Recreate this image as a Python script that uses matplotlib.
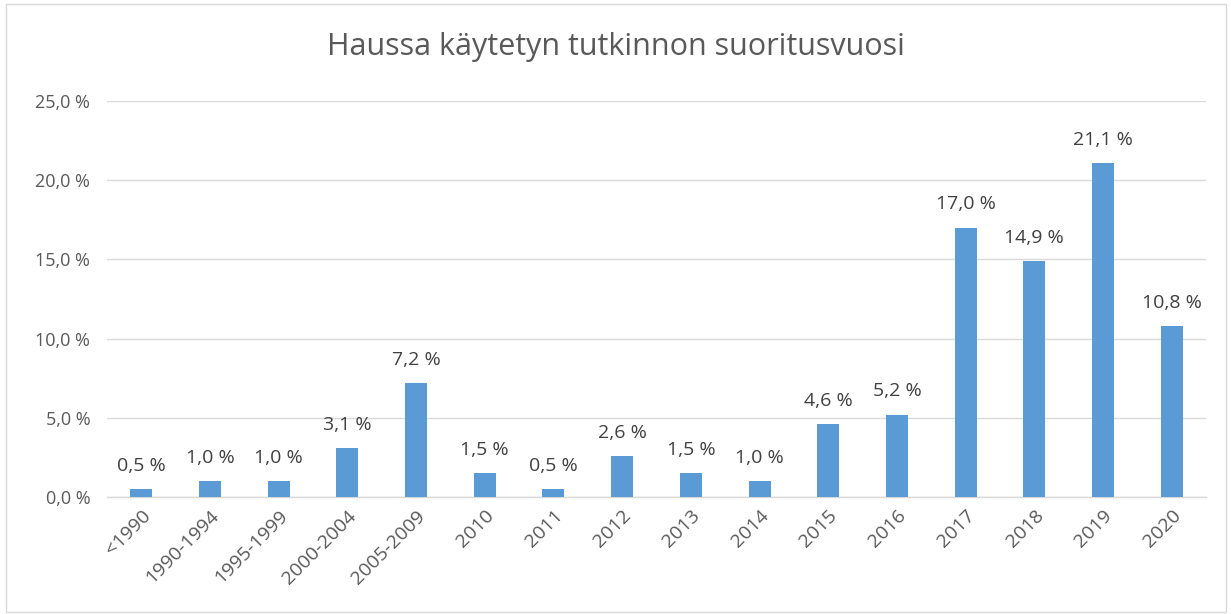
import matplotlib
matplotlib.use("Agg")
import matplotlib.pyplot as plt
from matplotlib.patches import Rectangle

categories = ["<1990", "1990-1994", "1995-1999", "2000-2004", "2005-2009",
              "2010", "2011", "2012", "2013", "2014", "2015", "2016",
              "2017", "2018", "2019", "2020"]
values = [0.5, 1.0, 1.0, 3.1, 7.2, 1.5, 0.5, 2.6, 1.5, 1.0, 4.6, 5.2,
          17.0, 14.9, 21.1, 10.8]
yticks = [0, 5, 10, 15, 20, 25]

text_color = "#595959"
bar_color = "#5B9BD5"
grid_color = "#D9D9D9"

plt.rcParams["font.family"] = ["Open Sans", "DejaVu Sans"]

fig = plt.figure(figsize=(12.31, 6.14), dpi=100)
ax = fig.add_axes([107 / 1231, 1 - 497 / 614, (1206 - 107) / 1231, (497 - 101) / 614])

x = range(len(categories))
ax.bar(x, values, width=0.32, color=bar_color, zorder=3)

def fmt(v):
    return ("%.1f %%" % v).replace(".", ",")

for xi, v in zip(x, values):
    ax.text(xi, v + 0.9, fmt(v), ha="center", va="bottom",
            fontsize=14, color="#404040")

ax.set_xlim(-0.5, len(categories) - 0.5)
ax.set_ylim(0, 25)
ax.set_yticks(yticks)
ax.set_yticklabels([fmt(t) for t in yticks], fontsize=13, color=text_color)
ax.set_xticks(list(x))
ax.set_xticklabels(categories, rotation=45, ha="right", rotation_mode="anchor",
                   fontsize=14, color=text_color)
ax.tick_params(axis="y", length=0, pad=12)
ax.tick_params(axis="x", length=0, pad=7)
ax.grid(axis="y", color=grid_color, linewidth=1, zorder=0)
for s in ["top", "right", "left"]:
    ax.spines[s].set_visible(False)
ax.spines["bottom"].set_color(grid_color)
ax.spines["bottom"].set_linewidth(1)

fig.text(0.5, 1 - 47 / 614, "Haussa käytetyn tutkinnon suoritusvuosi",
         ha="center", va="center", fontsize=22, color=text_color)

fig.patches.append(Rectangle((6 / 1231, 2 / 614), 1220 / 1231, 608 / 614,
                             transform=fig.transFigure, fill=False,
                             edgecolor="#D9D9D9", linewidth=1))

fig.savefig("out.png", dpi=100)
